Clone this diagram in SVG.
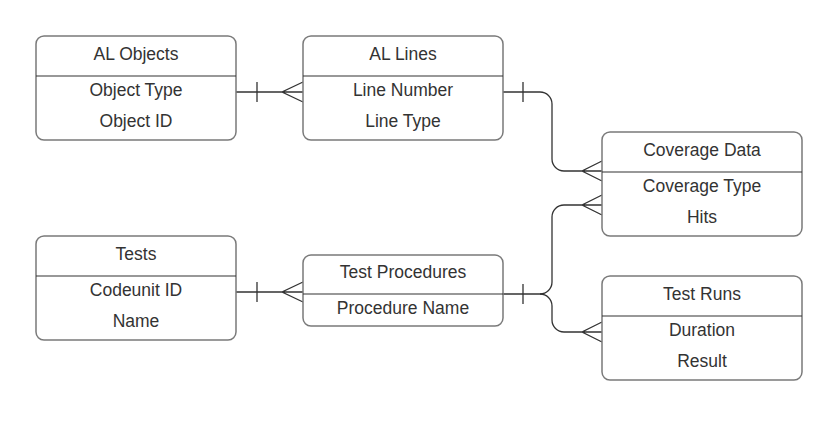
<svg xmlns="http://www.w3.org/2000/svg" width="840" height="446" viewBox="0 0 840 446">
<style>
.box{fill:#fff;stroke:#7a7a7a;stroke-width:1.5}
.div{stroke:#333;stroke-width:1.2}
.t{font-family:"Liberation Sans",Arial,sans-serif;font-size:17.5px;fill:#333;text-anchor:middle;dominant-baseline:central}
.c{fill:none;stroke:#333;stroke-width:1.3}
</style>
<rect width="840" height="446" fill="#fff"/>
<g id="connectors">
<path class="c" d="M236,92 H303 M257,82 V102 M303,82 L282,92 L303,102"/>
<path class="c" d="M236,292 H303 M257,282 V302 M303,282 L282,292 L303,302"/>
<path class="c" d="M503,92 H540 A12,12 0 0 1 552,104 V159 A12,12 0 0 0 564,171 H602 M523,82 V102 M602,161 L582,171 L602,181"/>
<path class="c" d="M503,294 H540 A12,12 0 0 0 552,282 V217 A12,12 0 0 1 564,205 H602 M523,284 V304 M602,195 L582,205 L602,215"/>
<path class="c" d="M540,294 A12,12 0 0 1 552,306 V320 A12,12 0 0 0 564,332 H602 M602,322 L582,332 L602,342"/>
</g>
<g id="al-objects">
<rect class="box" x="36" y="36" width="200" height="104" rx="8"/>
<line class="div" x1="36" y1="76" x2="236" y2="76"/>
<text class="t" x="136" y="54">AL Objects</text>
<text class="t" x="136" y="90">Object Type</text>
<text class="t" x="136" y="121">Object ID</text>
</g>
<g id="al-lines">
<rect class="box" x="303" y="36" width="200" height="104" rx="8"/>
<line class="div" x1="303" y1="76" x2="503" y2="76"/>
<text class="t" x="403" y="54">AL Lines</text>
<text class="t" x="403" y="90">Line Number</text>
<text class="t" x="403" y="121">Line Type</text>
</g>
<g id="coverage-data">
<rect class="box" x="602" y="132" width="200" height="104" rx="8"/>
<line class="div" x1="602" y1="172" x2="802" y2="172"/>
<text class="t" x="702" y="150">Coverage Data</text>
<text class="t" x="702" y="186">Coverage Type</text>
<text class="t" x="702" y="217">Hits</text>
</g>
<g id="tests">
<rect class="box" x="36" y="236" width="200" height="104" rx="8"/>
<line class="div" x1="36" y1="276" x2="236" y2="276"/>
<text class="t" x="136" y="254">Tests</text>
<text class="t" x="136" y="290">Codeunit ID</text>
<text class="t" x="136" y="321">Name</text>
</g>
<g id="test-procedures">
<rect class="box" x="303" y="255" width="200" height="71" rx="8"/>
<line class="div" x1="303" y1="294" x2="503" y2="294"/>
<text class="t" x="403" y="272">Test Procedures</text>
<text class="t" x="403" y="308">Procedure Name</text>
</g>
<g id="test-runs">
<rect class="box" x="602" y="276" width="200" height="104" rx="8"/>
<line class="div" x1="602" y1="316" x2="802" y2="316"/>
<text class="t" x="702" y="294">Test Runs</text>
<text class="t" x="702" y="330">Duration</text>
<text class="t" x="702" y="361">Result</text>
</g>
</svg>
